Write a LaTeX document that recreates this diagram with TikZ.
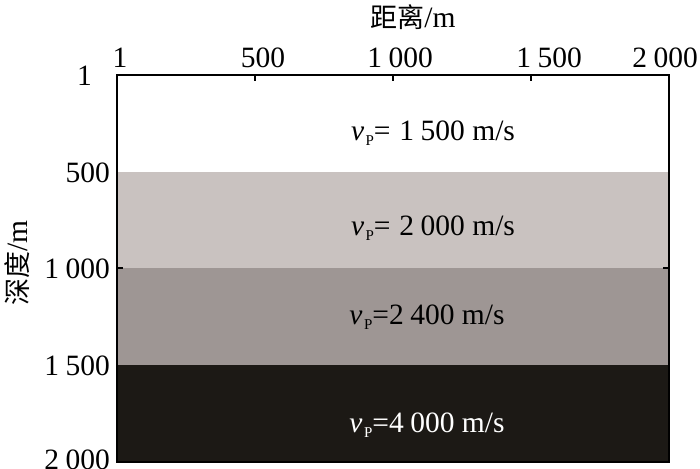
\documentclass[tikz,border=0pt]{standalone}
\usepackage{fontspec}
\setmainfont{Liberation Serif}
\newfontfamily\cjk{Noto Sans CJK SC}
\definecolor{layerA}{RGB}{255,255,255}
\definecolor{layerB}{RGB}{201,194,192}
\definecolor{layerC}{RGB}{158,150,148}
\definecolor{layerD}{RGB}{28,25,21}
\newcommand{\vp}{\textit{v}\hspace{0.05em}\raisebox{-0.4ex}{\fontsize{15}{15}\selectfont P}}
\newcommand{\gap}{\hspace{0.22em}}
\begin{document}
\begin{tikzpicture}[x=1pt,y=-1pt,
  lbl/.style={inner sep=0pt,font=\fontsize{29.5}{33}\selectfont},
  vel/.style={inner sep=0pt,font=\fontsize{29.5}{33}\selectfont},
  frame/.style={line width=1.8pt},
  tick/.style={line width=1.5pt}]
\useasboundingbox (0,0) rectangle (700,468);
% layers
\fill[layerA] (117,75) rectangle (669,172);
\fill[layerB] (117,172) rectangle (669,268);
\fill[layerC] (117,268) rectangle (669,365);
\fill[layerD] (117,365) rectangle (669,462);
% frame
\draw[frame] (117,75) rectangle (669,462);
% ticks
\draw[tick] (255,75) -- (255,81);
\draw[tick] (393,75) -- (393,81);
\draw[tick] (531,75) -- (531,81);
\draw[tick] (117,268) -- (123,268);
\draw[tick] (669,268) -- (663,268);
% top labels
\node[lbl] (t1) at (120,58) {1};
\node[lbl] (t2) at (263,58) {500};
\node[lbl] (t3) at (400,58) {1\gap000};
\node[lbl] (t4) at (549,58) {1\gap500};
\node[lbl] (t5) at (665,58) {2\gap000};
\node[lbl] (xt) at (413,17) {{\cjk\fontsize{27}{30}\selectfont 距离}/m};
% left labels
\node[lbl,anchor=east] (l1) at (92,76) {1};
\node[lbl,anchor=east] (l2) at (110,173) {500};
\node[lbl,anchor=east] (l3) at (110,269) {1\gap000};
\node[lbl,anchor=east] (l4) at (110,366) {1\gap500};
\node[lbl,anchor=east] (l5) at (110,460) {2\gap000};
\node[lbl,rotate=90] (yt) at (17,263) {{\cjk\fontsize{27}{30}\selectfont 深度}/m};
% velocity labels
\node[vel] (v1) at (433,133) {\vp=\hspace{0.3em}1\gap500 m/s};
\node[vel] (v2) at (433,228) {\vp=\hspace{0.3em}2\gap000 m/s};
\node[vel] (v3) at (427,317) {\vp=2\gap400 m/s};
\node[vel,text=white] (v4) at (427,425) {\vp=4\gap000 m/s};
\end{tikzpicture}
\end{document}
